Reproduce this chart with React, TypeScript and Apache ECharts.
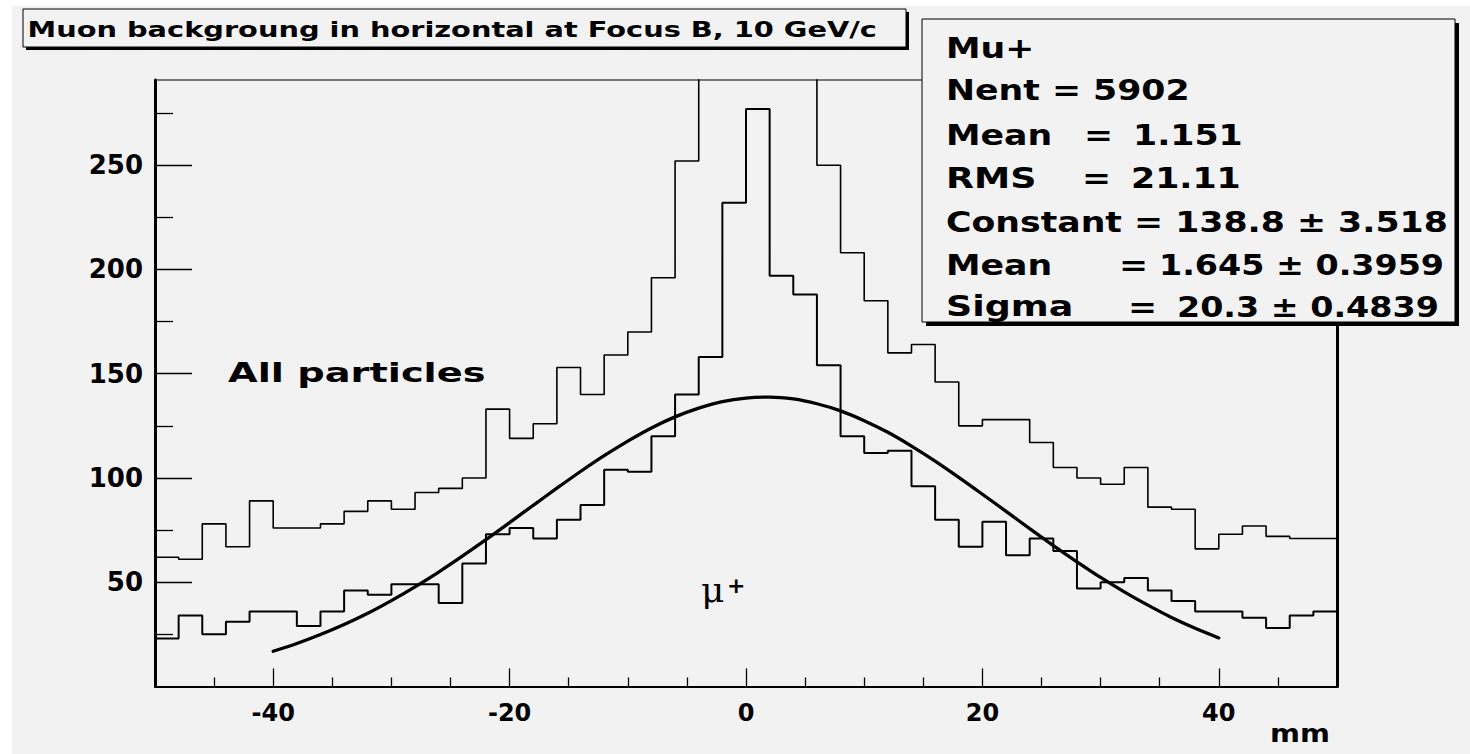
import React, { useEffect, useRef } from "react";
import * as echarts from "echarts";

// ---------- data ----------
const X_MIN = -50;
const X_MAX = 50;
const Y_MIN = 0;
const Y_MAX = 290.85;

const BIN_LOW_EDGES = [
  -50, -48, -46, -44, -42, -40, -38, -36, -34, -32,
  -30, -28, -26, -24, -22, -20, -18, -16, -14, -12,
  -10, -8, -6, -4, -2, 0, 2, 4, 6, 8,
  10, 12, 14, 16, 18, 20, 22, 24, 26, 28,
  30, 32, 34, 36, 38, 40, 42, 44, 46, 48,
];

const ALL_PARTICLES = [
  62, 61, 78, 67, 89, 76, 76, 78, 84, 89,
  85, 93, 95, 100, 133, 119, 126, 153, 140, 159,
  170, 196, 252, 305, 365, 415, 345, 300, 250, 208,
  185, 160, 164, 146, 125, 128, 128, 117, 105, 100,
  97, 105, 86, 85, 66, 73, 77, 72, 71, 71,
];

const MU_PLUS = [
  23, 34, 25, 31, 36, 36, 29, 36, 46, 44,
  49, 49, 40, 59, 73, 76, 71, 80, 87, 104,
  103, 120, 140, 158, 232, 277, 197, 188, 154, 120,
  112, 113, 96, 80, 67, 79, 63, 71, 65, 47,
  50, 52, 46, 41, 36, 36, 33, 28, 34, 36,
];

const FIT_X = [
  -40, -38, -36, -34, -32, -30, -28, -26, -24, -22, -20, -18, -16, -14,
  -12, -10, -8, -6, -4, -2, 0, 2, 4, 6, 8, 10, 12, 14, 16, 18, 20, 22,
  24, 26, 28, 30, 32, 34, 36, 38, 40,
];
const FIT_Y = [
  16.9, 20.6, 24.9, 29.7, 35.1, 41.2, 47.8, 54.9, 62.5, 70.4, 78.6, 86.9,
  95.1, 103.1, 110.7, 117.7, 124.0, 129.3, 133.5, 136.6, 138.3, 138.8,
  137.9, 135.6, 132.2, 127.5, 121.9, 115.3, 108.1, 100.3, 92.2, 84.0, 75.7,
  67.6, 59.8, 52.3, 45.4, 39.0, 33.1, 27.9, 23.3,
];

const X_TICK_LABELS = [-40, -20, 0, 20, 40];
const X_MINOR_TICKS = [-45, -35, -30, -25, -15, -10, -5, 5, 10, 15, 25, 30, 35, 45];
const Y_TICK_LABELS = [50, 100, 150, 200, 250];
const Y_MINOR_TICKS = [25, 75, 125, 175, 225, 275];

const TITLE = "Muon backgroung in horizontal at Focus B, 10 GeV/c";
const X_UNIT = "mm";

// ---------- helpers ----------
const SANS = '"DejaVu Sans", "Liberation Sans", sans-serif';
const SERIF = '"DejaVu Serif", "Liberation Serif", serif';
const BG = "#f2f2f2";

function stepData(vals: number[]) {
  const pts: number[][] = BIN_LOW_EDGES.map((e, i) => [e, vals[i]]);
  pts.push([X_MAX, vals[vals.length - 1]]);
  return pts;
}

function txt(
  text: string,
  x: number,
  y: number,
  size: number,
  sx: number,
  opts: any = {}
) {
  return {
    type: "text",
    x,
    y,
    scaleX: sx,
    z: opts.z ?? 110,
    silent: true,
    style: {
      text,
      fill: "#000",
      fontFamily: opts.family ?? SANS,
      fontWeight: opts.weight ?? "bold",
      fontSize: size,
      textAlign: opts.align ?? "left",
      textVerticalAlign: "middle",
    },
  };
}

function rect(x: number, y: number, w: number, h: number, style: any, z: number) {
  return { type: "rect", shape: { x, y, width: w, height: h }, style, z, silent: true };
}

export default function App() {
  const ref = useRef<HTMLDivElement>(null);

  useEffect(() => {
    if (!ref.current) return;
    const chart = echarts.init(ref.current, undefined, { renderer: "svg" });

    const axisFont = {
      color: "#000",
      fontFamily: SANS,
      fontWeight: "bold" as const,
    };

    const SF = 28; // stats font size
    const SX = 1.24;
    const VX = 1.19;

    const option: any = {
      animation: false,
      backgroundColor: BG,
      grid: {
        left: 155,
        right: 133,
        top: 80,
        bottom: 67.5,
        show: true,
        borderColor: "#000",
        borderWidth: 1,
        backgroundColor: "transparent",
      },
      xAxis: [
        {
          type: "value",
          min: X_MIN,
          max: X_MAX,
          position: "bottom",
          axisLine: { show: true, onZero: false, lineStyle: { color: "#000", width: 2.2 } },
          axisTick: {
            show: true,
            inside: true,
            length: 9,
            customValues: X_MINOR_TICKS,
            lineStyle: { color: "#000", width: 1.3 },
          },
          axisLabel: {
            show: true,
            customValues: X_TICK_LABELS,
            margin: 14,
            fontSize: 24,
            ...axisFont,
            formatter: (v: number) => String(v),
          },
          splitLine: { show: false },
        },
        {
          type: "value",
          min: X_MIN,
          max: X_MAX,
          position: "bottom",
          axisLine: { show: false, onZero: false },
          axisTick: {
            show: true,
            inside: true,
            length: 18,
            customValues: X_TICK_LABELS,
            lineStyle: { color: "#000", width: 1.3 },
          },
          axisLabel: { show: false },
          splitLine: { show: false },
        },
      ],
      yAxis: [
        {
          type: "value",
          min: Y_MIN,
          max: Y_MAX,
          position: "left",
          axisLine: { show: true, onZero: false, lineStyle: { color: "#000", width: 3 } },
          axisTick: {
            show: true,
            inside: true,
            length: 18,
            customValues: Y_MINOR_TICKS,
            lineStyle: { color: "#000", width: 1.3 },
          },
          axisLabel: {
            show: true,
            customValues: Y_TICK_LABELS,
            margin: 12,
            fontSize: 26,
            padding: [6, 0, 0, 0],
            ...axisFont,
            formatter: (v: number) => String(v),
          },
          splitLine: { show: false },
        },
        {
          type: "value",
          min: Y_MIN,
          max: Y_MAX,
          position: "left",
          axisLine: { show: false, onZero: false },
          axisTick: {
            show: true,
            inside: true,
            length: 37,
            customValues: Y_TICK_LABELS,
            lineStyle: { color: "#000", width: 1.3 },
          },
          axisLabel: { show: false },
          splitLine: { show: false },
        },
        {
          type: "value",
          min: Y_MIN,
          max: Y_MAX,
          position: "right",
          axisLine: { show: true, onZero: false, lineStyle: { color: "#000", width: 3 } },
          axisTick: { show: false },
          axisLabel: { show: false },
          splitLine: { show: false },
        },
      ],
      series: [
        {
          type: "line",
          name: "All particles",
          data: stepData(ALL_PARTICLES),
          step: "end",
          symbol: "none",
          clip: true,
          silent: true,
          z: 3,
          lineStyle: { color: "#000", width: 1.6 },
        },
        {
          type: "line",
          name: "Mu+",
          data: stepData(MU_PLUS),
          step: "end",
          symbol: "none",
          clip: true,
          silent: true,
          z: 4,
          lineStyle: { color: "#000", width: 2 },
        },
        {
          type: "line",
          name: "Gaussian fit",
          data: FIT_X.map((x, i) => [x, FIT_Y[i]]),
          smooth: 0.3,
          symbol: "none",
          clip: true,
          silent: true,
          z: 5,
          lineStyle: { color: "#000", width: 3.3, cap: "round" },
        },
      ],
      graphic: [
        // white page border around the grey canvas
        rect(0, 0, 1470, 6, { fill: "#fff" }, 1),
        rect(0, 0, 12, 754, { fill: "#fff" }, 1),
        // title box
        rect(26, 12, 883, 38, { fill: "#000" }, 100),
        rect(23, 9, 883, 38, { fill: BG, stroke: "#000", lineWidth: 1 }, 101),
        txt(TITLE, 27.5, 29, 22, 1.31),
        // stats box
        rect(926, 23, 533, 303, { fill: "#000" }, 100),
        rect(922, 19, 533, 303, { fill: BG, stroke: "#000", lineWidth: 1 }, 101),
        txt("Mu+", 946, 48.6, SF, SX),
        txt("Nent = 5902", 946, 90.3, SF, SX),
        txt("Mean", 946, 135.3, SF, SX),
        txt("=", 1084, 135.3, SF, SX),
        txt("1.151", 1133, 135.3, SF, SX),
        txt("RMS", 946, 178.6, SF, 1.3),
        txt("=", 1082, 178.6, SF, SX),
        txt("21.11", 1131, 178.6, SF, SX),
        txt("Constant = 138.8 ± 3.518", 946, 222, SF, SX),
        txt("Mean", 946, 265.3, SF, SX),
        txt("=", 1119, 265.3, SF, SX),
        txt("1.645 ± 0.3959", 1159, 265.3, SF, VX),
        txt("Sigma", 946, 307, SF, 1.3),
        txt("=", 1128, 307, SF, SX),
        txt("20.3 ± 0.4839", 1177, 307, SF, VX),
        // annotations
        txt("All particles", 228, 372.4, 27, 1.42, { z: 20 }),
        txt("μ", 701, 589.2, 36, 1.0, { z: 20, family: SERIF, weight: "normal" }),
        txt("+", 727, 585.3, 22, 1.0, { z: 20 }),
        txt(X_UNIT, 1330, 733.4, 25, 1.15, { z: 20, align: "right" }),
      ],
    };

    chart.setOption(option);
    return () => chart.dispose();
  }, []);

  return (
    <div
      ref={ref}
      style={{ position: "fixed", left: 0, top: 0, width: 1470, height: 754 }}
    />
  );
}
